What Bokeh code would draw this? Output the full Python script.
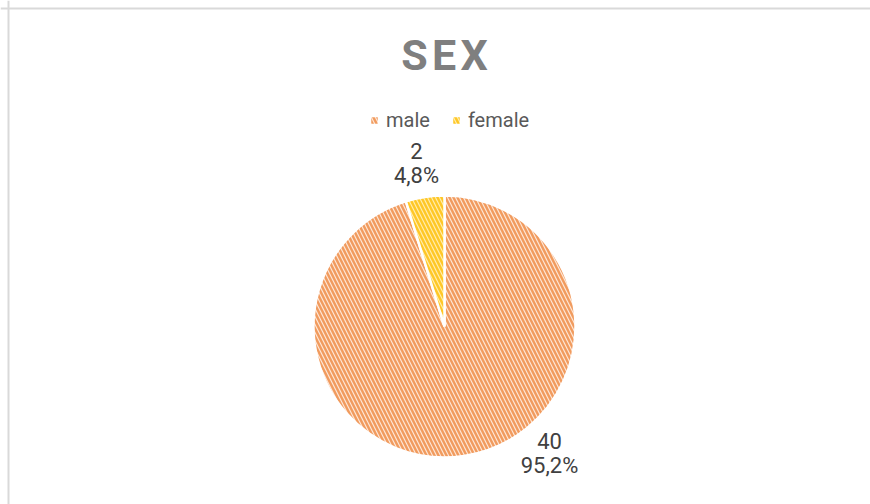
import math
from bokeh.plotting import figure
from bokeh.models import Range1d, Span
from bokeh.core.properties import value
from bokeh.embed import file_html
from bokeh.resources import INLINE

# ---- data ----
categories = ["male", "female"]
counts = [40, 2]
fill_colors = ["#FDE6D6", "#FFEDAD"]
hatch_colors = ["#F19B5E", "#FFC726"]
title_text = "SEX"

W, H = 870, 504
p = figure(width=W, height=H, output_backend="svg", toolbar_location=None,
           x_range=Range1d(0, W), y_range=Range1d(0, H), min_border=0)
p.axis.visible = False
p.grid.visible = False
p.outline_line_color = None
p.background_fill_color = "white"
p.border_fill_color = "white"

# chart-area border (top & left visible in reference)
p.add_layout(Span(location=8, dimension="height", line_color="#D9D9D9", line_width=2))
p.add_layout(Span(location=H - 8, dimension="width", line_color="#D9D9D9", line_width=2))

cx, cy, r = 444, 178, 131
total = sum(counts)
starts, ends, fracs = [], [], []
a = math.pi / 2
for c in counts:
    f = c / total
    fracs.append(f)
    starts.append(a)
    a = a - f * 2 * math.pi
    ends.append(a)

nan = float("nan")
for i, cat in enumerate(categories):
    style = dict(fill_color=fill_colors[i], hatch_pattern="\\",
                 hatch_color=hatch_colors[i], hatch_scale=8, hatch_weight=2.4)
    p.wedge(x=cx, y=cy, radius=r, start_angle=starts[i], end_angle=ends[i],
            direction="clock", line_color="white", line_width=2.5, **style)
    # legend swatch (area glyph so the legend shows a filled square)
    p.quad(left=[nan], right=[nan], top=[nan], bottom=[nan], line_color=None,
           legend_label=cat, **style)

# data labels
label_pos = {"male": (549, 64), "female": (416, 354)}
for i, cat in enumerate(categories):
    lx, ly = label_pos[cat]
    pct = f"{fracs[i]*100:.1f}".replace(".", ",") + "%"
    for txt, yy in ((str(counts[i]), ly), (pct, ly - 25)):
        p.text(x=[lx], y=[yy], text=[txt], text_align="center",
               text_baseline="middle", text_font=value("Roboto"),
               text_font_size="22px", text_color="#404040")

# title
p.text(x=[444], y=[450], text=["S\u200aE\u200aX"], text_align="center",
       text_baseline="middle", text_font=value("Roboto"),
       text_font_style="bold", text_font_size="43px", text_color="#7F7F7F")

lg = p.legend[0]
lg.orientation = "horizontal"
lg.location = (370, 372)
lg.padding = 0
lg.margin = 0
lg.spacing = 22
lg.border_line_color = None
lg.background_fill_alpha = 0
lg.glyph_width = 8
lg.glyph_height = 8
lg.label_standoff = 8
lg.label_height = 20
lg.label_text_font = "Roboto"
lg.label_text_font_size = "20px"
lg.label_text_color = "#595959"

open("out.html", "w").write(file_html(p, INLINE))
